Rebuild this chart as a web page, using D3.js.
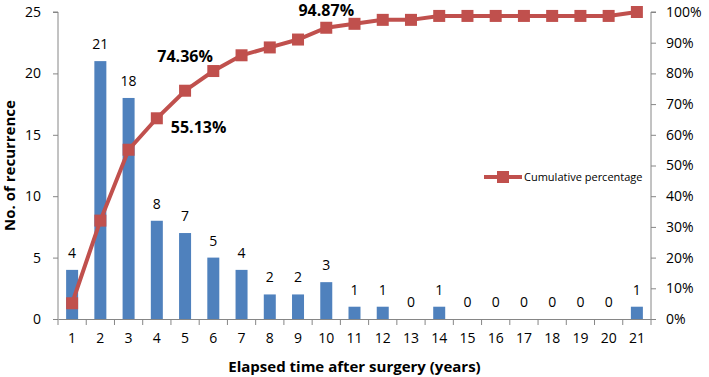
<!DOCTYPE html>
<html>
<head>
<meta charset="utf-8">
<script src="https://cdn.jsdelivr.net/npm/d3@7"></script>
<style>
  body { margin: 0; background: #fff; }
  text { font-family: "Open Sans", "Noto Sans", sans-serif; }
</style>
</head>
<body>
<svg id="chart" width="709" height="377"></svg>
<script>
const years = ["1","2","3","4","5","6","7","8","9","10","11","12","13","14","15","16","17","18","19","20","21"];
const recurrences = [4, 21, 18, 8, 7, 5, 4, 2, 2, 3, 1, 1, 0, 1, 0, 0, 0, 0, 0, 0, 1];
const cumulativePct = [5.13, 32.05, 55.13, 65.38, 74.36, 80.77, 85.90, 88.46, 91.03, 94.87, 96.15, 97.44, 97.44, 98.72, 98.72, 98.72, 98.72, 98.72, 98.72, 98.72, 100];
const leftTicks = [0, 5, 10, 15, 20, 25];
const rightTicks = [0, 10, 20, 30, 40, 50, 60, 70, 80, 90, 100];
const pctLabels = [
  { year: "3", text: "55.13%", dx: 70, dy: -17 },
  { year: "5", text: "74.36%", dx: 0, dy: -29 },
  { year: "10", text: "94.87%", dx: 0, dy: -12 }
];

const svg = d3.select("#chart");
const margin = { top: 12, right: 58, bottom: 58, left: 58 };
const width = 709, height = 377;
const axisColor = "#868686";

const x = d3.scaleBand()
  .domain(years)
  .range([margin.left, width - margin.right]);

const yLeft = d3.scaleLinear().domain([0, 25]).range([height - margin.bottom, margin.top]);
const yRight = d3.scaleLinear().domain([0, 100]).range([height - margin.bottom, margin.top]);

const barWidth = 12;

// bars
svg.selectAll(".bar")
  .data(recurrences)
  .enter()
  .append("rect")
  .attr("class", "bar")
  .attr("x", (d, i) => x(years[i]) + x.bandwidth() / 2 - barWidth / 2)
  .attr("y", (d) => yLeft(d))
  .attr("width", barWidth)
  .attr("height", (d) => yLeft(0) - yLeft(d))
  .attr("fill", "#4F81BD");

// bar value labels
svg.selectAll(".barlabel")
  .data(recurrences)
  .enter()
  .append("text")
  .attr("x", (d, i) => x(years[i]) + x.bandwidth() / 2)
  .attr("y", (d) => yLeft(d) - 12)
  .attr("text-anchor", "middle")
  .style("font-size", "14px")
  .attr("fill", "#000")
  .text((d) => d);

// left axis
const leftAxis = svg.append("g")
  .attr("transform", `translate(${margin.left},0)`)
  .call(d3.axisLeft(yLeft).tickValues(leftTicks).tickSize(5).tickPadding(12));
leftAxis.selectAll("path, line").attr("stroke", axisColor);
leftAxis.select(".domain").attr("d", `M-5,${yLeft(25)}H0V${yLeft(0)}`);
leftAxis.selectAll("text").style("font-size", "14px").attr("fill", "#000");

// right axis
const rightAxis = svg.append("g")
  .attr("transform", `translate(${width - margin.right},0)`)
  .call(d3.axisRight(yRight).tickValues(rightTicks).tickSize(5).tickPadding(10).tickFormat((d) => d + "%"));
rightAxis.selectAll("path, line").attr("stroke", axisColor);
rightAxis.select(".domain").attr("d", `M5,${yRight(100)}H0V${yRight(0)}`);
rightAxis.selectAll("text").style("font-size", "14px").attr("fill", "#000");

// bottom axis
const bottomAxis = svg.append("g")
  .attr("transform", `translate(0,${height - margin.bottom})`)
  .call(d3.axisBottom(x).tickSize(0).tickPadding(14));
bottomAxis.select(".domain").attr("stroke", axisColor);
bottomAxis.selectAll("text").style("font-size", "14px").attr("fill", "#000");
bottomAxis.selectAll(".sep")
  .data(years.concat(["end"]))
  .enter()
  .append("line")
  .attr("class", "sep")
  .attr("x1", (d, i) => margin.left + i * x.bandwidth())
  .attr("x2", (d, i) => margin.left + i * x.bandwidth())
  .attr("y1", 0)
  .attr("y2", 6)
  .attr("stroke", axisColor);

// cumulative line
const line = d3.line()
  .x((d, i) => x(years[i]) + x.bandwidth() / 2)
  .y((d) => yRight(d));

svg.append("path")
  .datum(cumulativePct)
  .attr("d", line)
  .attr("fill", "none")
  .attr("stroke", "#C0504D")
  .attr("stroke-width", 4);

const marker = 12;
svg.selectAll(".marker")
  .data(cumulativePct)
  .enter()
  .append("rect")
  .attr("x", (d, i) => x(years[i]) + x.bandwidth() / 2 - marker / 2)
  .attr("y", (d) => yRight(d) - marker / 2)
  .attr("width", marker)
  .attr("height", marker)
  .attr("fill", "#C0504D");

// percentage callouts
svg.selectAll(".pctlabel")
  .data(pctLabels)
  .enter()
  .append("text")
  .attr("x", (d) => x(d.year) + x.bandwidth() / 2 + d.dx)
  .attr("y", (d) => yRight(cumulativePct[years.indexOf(d.year)]) + d.dy)
  .attr("text-anchor", "middle")
  .style("font-size", "16px")
  .style("font-weight", "bold")
  .text((d) => d.text);

// legend
const legend = svg.append("g").attr("transform", "translate(484,177)");
legend.append("line").attr("x1", 0).attr("x2", 38).attr("stroke", "#C0504D").attr("stroke-width", 4);
legend.append("rect").attr("x", 13).attr("y", -6).attr("width", 12).attr("height", 12).attr("fill", "#C0504D");
legend.append("text").attr("x", 40).attr("y", 4).style("font-size", "11px").text("Cumulative percentage");

// axis titles
svg.append("text")
  .attr("transform", `translate(15,${(margin.top + height - margin.bottom) / 2}) rotate(-90)`)
  .attr("text-anchor", "middle")
  .style("font-size", "15px")
  .style("font-weight", "bold")
  .text("No. of recurrence");

svg.append("text")
  .attr("x", (margin.left + width - margin.right) / 2)
  .attr("y", 372)
  .attr("text-anchor", "middle")
  .style("font-size", "15px")
  .style("font-weight", "bold")
  .text("Elapsed time after surgery (years)");
</script>
</body>
</html>
